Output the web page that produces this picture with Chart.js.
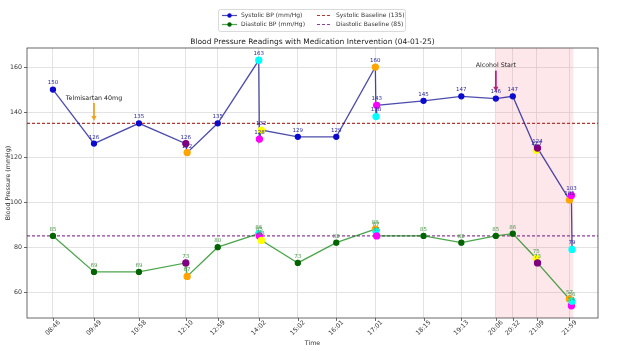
<!DOCTYPE html>
<html>
<head>
<meta charset="utf-8">
<script src="https://cdn.jsdelivr.net/npm/chart.js@4"></script>
<style>
html, body { margin: 0; padding: 0; background: #fff; }
</style>
</head>
<body>
<canvas id="bpChart" width="617" height="351"></canvas>
<script>
// readings in time order (several readings close together share a clock time)
const times = ['08:46', '09:49', '10:58', '12:10', '12:12', '12:59', '14:02', '14:03', '14:06', '15:02', '16:01',
    '17:01', '17:02', '17:03', '18:15', '19:13', '20:06', '20:32', '21:08', '21:10', '21:59', '22:02', '22:03'];
const systolic = [150, 126, 135, 126, 122, 135, 163, 128, 132, 129, 129, 160, 138, 143, 145, 147, 146, 147, 123, 124, 101, 103, 79];
const diastolic = [85, 69, 69, 73, 67, 80, 86, 85, 83, 73, 82, 88, 87, 85, 85, 82, 85, 86, 75, 73, 57, 54, 56];
const readingColors = ['', '', '', 'purple', 'orange', '', 'cyan', 'magenta', 'yellow', '', '',
    'orange', 'cyan', 'magenta', '', '', '', '', 'yellow', 'purple', 'orange', 'magenta', 'cyan'];

const tickLabels = ['08:46', '09:49', '10:58', '12:10', '12:59', '14:02', '15:02', '16:01', '17:01',
    '18:15', '19:13', '20:06', '20:32', '21:09', '21:59'];
const yTicks = [60, 80, 100, 120, 140, 160];

const systolicBaseline = 135;
const diastolicBaseline = 85;
const alcoholStart = '20:06';
const alcoholEnd = '22:05';

const toMin = t => { const p = t.split(':'); return +p[0] * 60 + +p[1]; };

// matplotlib style 5% margins
const xs = times.map(toMin);
const xPad = (Math.max(...xs) - Math.min(...xs)) * 0.05;
const xMin = Math.min(...xs) - xPad, xMax = Math.max(...xs) + xPad;
const allY = systolic.concat(diastolic);
const yPad = (Math.max(...allY) - Math.min(...allY)) * 0.05;
const yMin = Math.min(...allY) - yPad, yMax = Math.max(...allY) + yPad;

const notes = [
    { text: 'Telmisartan 40mg', time: '09:49', textAt: 146, from: 144, to: 136, color: '#f2a222' },
    { text: 'Alcohol Start', time: alcoholStart, textAt: 160.6, from: 158.4, to: 149, color: '#b5247c' }
];

const FONT = '"DejaVu Sans", sans-serif';

const sysPointColors = readingColors.map(c => c || '#0b0bd0');
const diaPointColors = readingColors.map(c => c || '#006400');
const radii = readingColors.map(c => c ? 3 : 2.5);

function arrow(ctx, x, y1, y2, color) {
    ctx.save();
    ctx.strokeStyle = color;
    ctx.fillStyle = color;
    ctx.lineWidth = 1.8;
    ctx.beginPath();
    ctx.moveTo(x, y1);
    ctx.lineTo(x, y2 - 4);
    ctx.stroke();
    ctx.beginPath();
    ctx.moveTo(x - 2.6, y2 - 5);
    ctx.lineTo(x + 2.6, y2 - 5);
    ctx.lineTo(x, y2);
    ctx.closePath();
    ctx.fill();
    ctx.restore();
}

const extras = {
    id: 'extras',
    beforeDatasetsDraw(chart) {
        const { ctx, chartArea: a, scales: { x } } = chart;
        ctx.save();
        ctx.fillStyle = 'rgba(245, 120, 140, 0.18)';
        const l = x.getPixelForValue(toMin(alcoholStart));
        const r = x.getPixelForValue(toMin(alcoholEnd));
        ctx.fillRect(l, a.top, r - l, a.bottom - a.top);
        ctx.restore();
    },
    afterDatasetsDraw(chart) {
        const { ctx, chartArea: a, scales: { x, y } } = chart;
        ctx.save();
        // value labels
        ctx.font = '5.5px ' + FONT;
        ctx.textAlign = 'center';
        ctx.textBaseline = 'middle';
        [[0, systolic, '#28289a'], [1, diastolic, '#4f9a4f']].forEach(([di, vals, col]) => {
            const meta = chart.getDatasetMeta(di);
            ctx.fillStyle = col;
            meta.data.forEach((pt, i) => ctx.fillText(String(vals[i]), pt.x, pt.y - 6.5));
        });
        // annotations
        ctx.font = '6.3px ' + FONT;
        notes.forEach(n => {
            const px = x.getPixelForValue(toMin(n.time));
            ctx.fillStyle = '#222';
            ctx.fillText(n.text, px, y.getPixelForValue(n.textAt));
            arrow(ctx, px, y.getPixelForValue(n.from), y.getPixelForValue(n.to), n.color);
        });
        ctx.restore();
    },
    afterDraw(chart) {
        const { ctx, chartArea: a, scales: { x, y } } = chart;
        ctx.save();
        // spines
        ctx.strokeStyle = '#444';
        ctx.lineWidth = 0.8;
        ctx.strokeRect(a.left, a.top, a.right - a.left, a.bottom - a.top);
        // tick marks
        ctx.beginPath();
        tickLabels.forEach(t => {
            const px = Math.round(x.getPixelForValue(toMin(t))) + 0.5;
            ctx.moveTo(px, a.bottom);
            ctx.lineTo(px, a.bottom + 3);
        });
        yTicks.forEach(v => {
            const py = Math.round(y.getPixelForValue(v)) + 0.5;
            ctx.moveTo(a.left, py);
            ctx.lineTo(a.left - 3, py);
        });
        ctx.stroke();
        // x tick labels, rotated and centred under the tick
        ctx.fillStyle = '#333';
        ctx.font = '6.3px ' + FONT;
        ctx.textAlign = 'center';
        ctx.textBaseline = 'middle';
        tickLabels.forEach(t => {
            ctx.save();
            ctx.translate(x.getPixelForValue(toMin(t)), a.bottom + 10);
            ctx.rotate(-Math.PI / 4);
            ctx.fillText(t, 0, 0);
            ctx.restore();
        });
        // axis titles
        ctx.font = '6.3px ' + FONT;
        ctx.fillText('Time', (a.left + a.right) / 2, 343);
        ctx.save();
        ctx.translate(8, (a.top + a.bottom) / 2);
        ctx.rotate(-Math.PI / 2);
        ctx.fillText('Blood Pressure (mmHg)', 0, 0);
        ctx.restore();
        // title
        ctx.fillStyle = '#222';
        ctx.font = '7.5px ' + FONT;
        ctx.fillText('Blood Pressure Readings with Medication Intervention (04-01-25)', (a.left + a.right) / 2, 42);
        // legend
        ctx.strokeStyle = '#d0d0d0';
        ctx.lineWidth = 0.8;
        ctx.fillStyle = '#fff';
        ctx.beginPath();
        ctx.roundRect(218.5, 9.5, 187, 22, 2);
        ctx.fill();
        ctx.stroke();
        const items = [
            { x: 222, y: 15.5, text: 'Systolic BP (mm/Hg)', color: 'rgba(0,0,139,0.7)', marker: '#0b0bd0' },
            { x: 222, y: 24.5, text: 'Diastolic BP (mm/Hg)', color: 'rgba(0,128,0,0.7)', marker: '#006400' },
            { x: 317, y: 15.5, text: 'Systolic Baseline (135)', color: '#b03a32', dash: true },
            { x: 317, y: 24.5, text: 'Diastolic Baseline (85)', color: '#8e3f98', dash: true }
        ];
        ctx.font = '6px ' + FONT;
        ctx.textAlign = 'left';
        items.forEach(it => {
            ctx.strokeStyle = it.color;
            ctx.lineWidth = 1.2;
            ctx.setLineDash(it.dash ? [3, 2] : []);
            ctx.beginPath();
            ctx.moveTo(it.x, it.y);
            ctx.lineTo(it.x + 15, it.y);
            ctx.stroke();
            ctx.setLineDash([]);
            if (it.marker) {
                ctx.fillStyle = it.marker;
                ctx.beginPath();
                ctx.arc(it.x + 7.5, it.y, 2.2, 0, Math.PI * 2);
                ctx.fill();
            }
            ctx.fillStyle = '#333';
            ctx.fillText(it.text, it.x + 19, it.y);
        });
        ctx.restore();
    }
};

const ctx = document.getElementById('bpChart').getContext('2d');

new Chart(ctx, {
    type: 'line',
    data: {
        datasets: [{
            label: 'Systolic BP (mm/Hg)',
            data: xs.map((v, i) => ({ x: v, y: systolic[i] })),
            borderColor: 'rgba(0,0,139,0.7)',
            borderWidth: 1.3,
            pointBackgroundColor: sysPointColors,
            pointBorderColor: sysPointColors,
            pointRadius: radii,
            tension: 0
        }, {
            label: 'Diastolic BP (mm/Hg)',
            data: xs.map((v, i) => ({ x: v, y: diastolic[i] })),
            borderColor: 'rgba(0,128,0,0.7)',
            borderWidth: 1.3,
            pointBackgroundColor: diaPointColors,
            pointBorderColor: diaPointColors,
            pointRadius: radii,
            tension: 0
        }, {
            label: 'Systolic Baseline (135)',
            data: [{ x: xMin, y: systolicBaseline }, { x: xMax, y: systolicBaseline }],
            borderColor: '#b03a32',
            borderWidth: 1.2,
            borderDash: [3, 2],
            pointRadius: 0
        }, {
            label: 'Diastolic Baseline (85)',
            data: [{ x: xMin, y: diastolicBaseline }, { x: xMax, y: diastolicBaseline }],
            borderColor: '#8e3f98',
            borderWidth: 1.2,
            borderDash: [3, 2],
            pointRadius: 0
        }]
    },
    options: {
        responsive: false,
        animation: false,
        devicePixelRatio: 1,
        layout: { padding: { top: 48, right: 19, left: 0, bottom: 0 } },
        plugins: {
            legend: { display: false },
            title: { display: false },
            tooltip: { enabled: false }
        },
        scales: {
            x: {
                type: 'linear',
                min: xMin,
                max: xMax,
                afterBuildTicks: s => { s.ticks = tickLabels.map(t => ({ value: toMin(t) })); },
                afterFit: s => { s.height = 33; },
                ticks: { display: false },
                grid: { color: '#dcdcdc', lineWidth: 0.8, drawTicks: false },
                border: { display: false }
            },
            y: {
                min: yMin,
                max: yMax,
                afterBuildTicks: s => { s.ticks = yTicks.map(v => ({ value: v })); },
                afterFit: s => { s.width = 27; },
                ticks: { font: { family: FONT, size: 6.3 }, color: '#333', padding: 5 },
                grid: { color: '#dcdcdc', lineWidth: 0.8, drawTicks: false },
                border: { display: false }
            }
        }
    },
    plugins: [extras]
});
</script>
</body>
</html>
